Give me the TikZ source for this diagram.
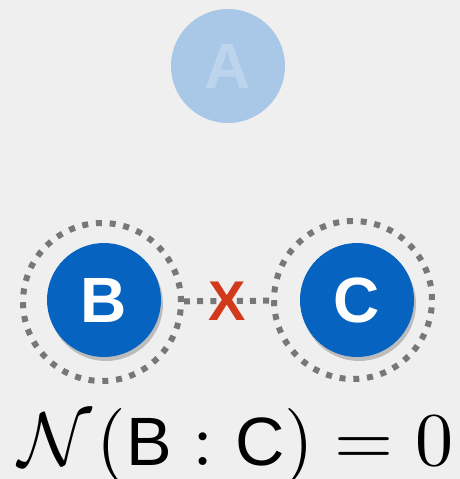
\documentclass[tikz,border=0pt]{standalone}
\usepackage{amsmath}
\usepackage{fontspec}
\setsansfont{Liberation Sans}
\usepackage{tikz}
\usetikzlibrary{shadows}
\definecolor{paper}{HTML}{EFEFEF}
\definecolor{qubitblue}{HTML}{0664C0}
\definecolor{fadedblue}{HTML}{A9C7E6}
\definecolor{fadedtext}{HTML}{BDD5EC}
\definecolor{ringgray}{HTML}{777777}
\definecolor{crossred}{HTML}{D2391B}
\newcommand{\eqletter}[1]{\text{\fontsize{9}{11}\selectfont\sffamily\mdseries#1}}

\begin{document}
\begin{tikzpicture}[
  x=0.5pt,y=-0.5pt,
  every node/.style={font=\sffamily\bfseries},
  qubit/.style={circle,fill=qubitblue,text=white,minimum size=57pt,inner sep=0pt,
               font=\fontsize{32}{32}\selectfont\sffamily\bfseries,
               drop shadow={opacity=0.45,shadow xshift=1pt,shadow yshift=-2pt}},
  faded/.style={circle,fill=fadedblue,text=fadedtext,minimum size=57pt,inner sep=0pt,
               font=\fontsize{32}{32}\selectfont\sffamily\bfseries},
  ring/.style={circle,draw=ringgray,line width=3pt,dash pattern=on 3pt off 3.9pt,
              minimum size=79pt,inner sep=0pt},
  link/.style={draw=ringgray,line width=3pt,dash pattern=on 3pt off 3.6pt}
]
\fill[paper] (0,0) rectangle (460,479);
\useasboundingbox (0,0) rectangle (460,479);
\node[faded] (A) at (228,66) {A};
\node[ring] (ringB) at (102,302) {};
\node[ring] (ringC) at (353,300) {};
\node[qubit] (B) at (104,300) {B};
\node[qubit] (C) at (357,300) {C};
\draw[link] (ringB) -- (ringC) coordinate[midway] (mid);
\node[text=crossred,font=\fontsize{28}{28}\selectfont\sffamily\bfseries,inner sep=0pt]
  (cross) at (mid) {X};
\node[anchor=base,inner sep=0pt,font=\fontsize{10}{12}\selectfont\mdseries] (eq) at (236,465)
  {\scalebox{3.8}{$\mathcal{N}\mkern1mu(\eqletter{B} : \eqletter{C}) = 0$}};
\end{tikzpicture}
\end{document}
